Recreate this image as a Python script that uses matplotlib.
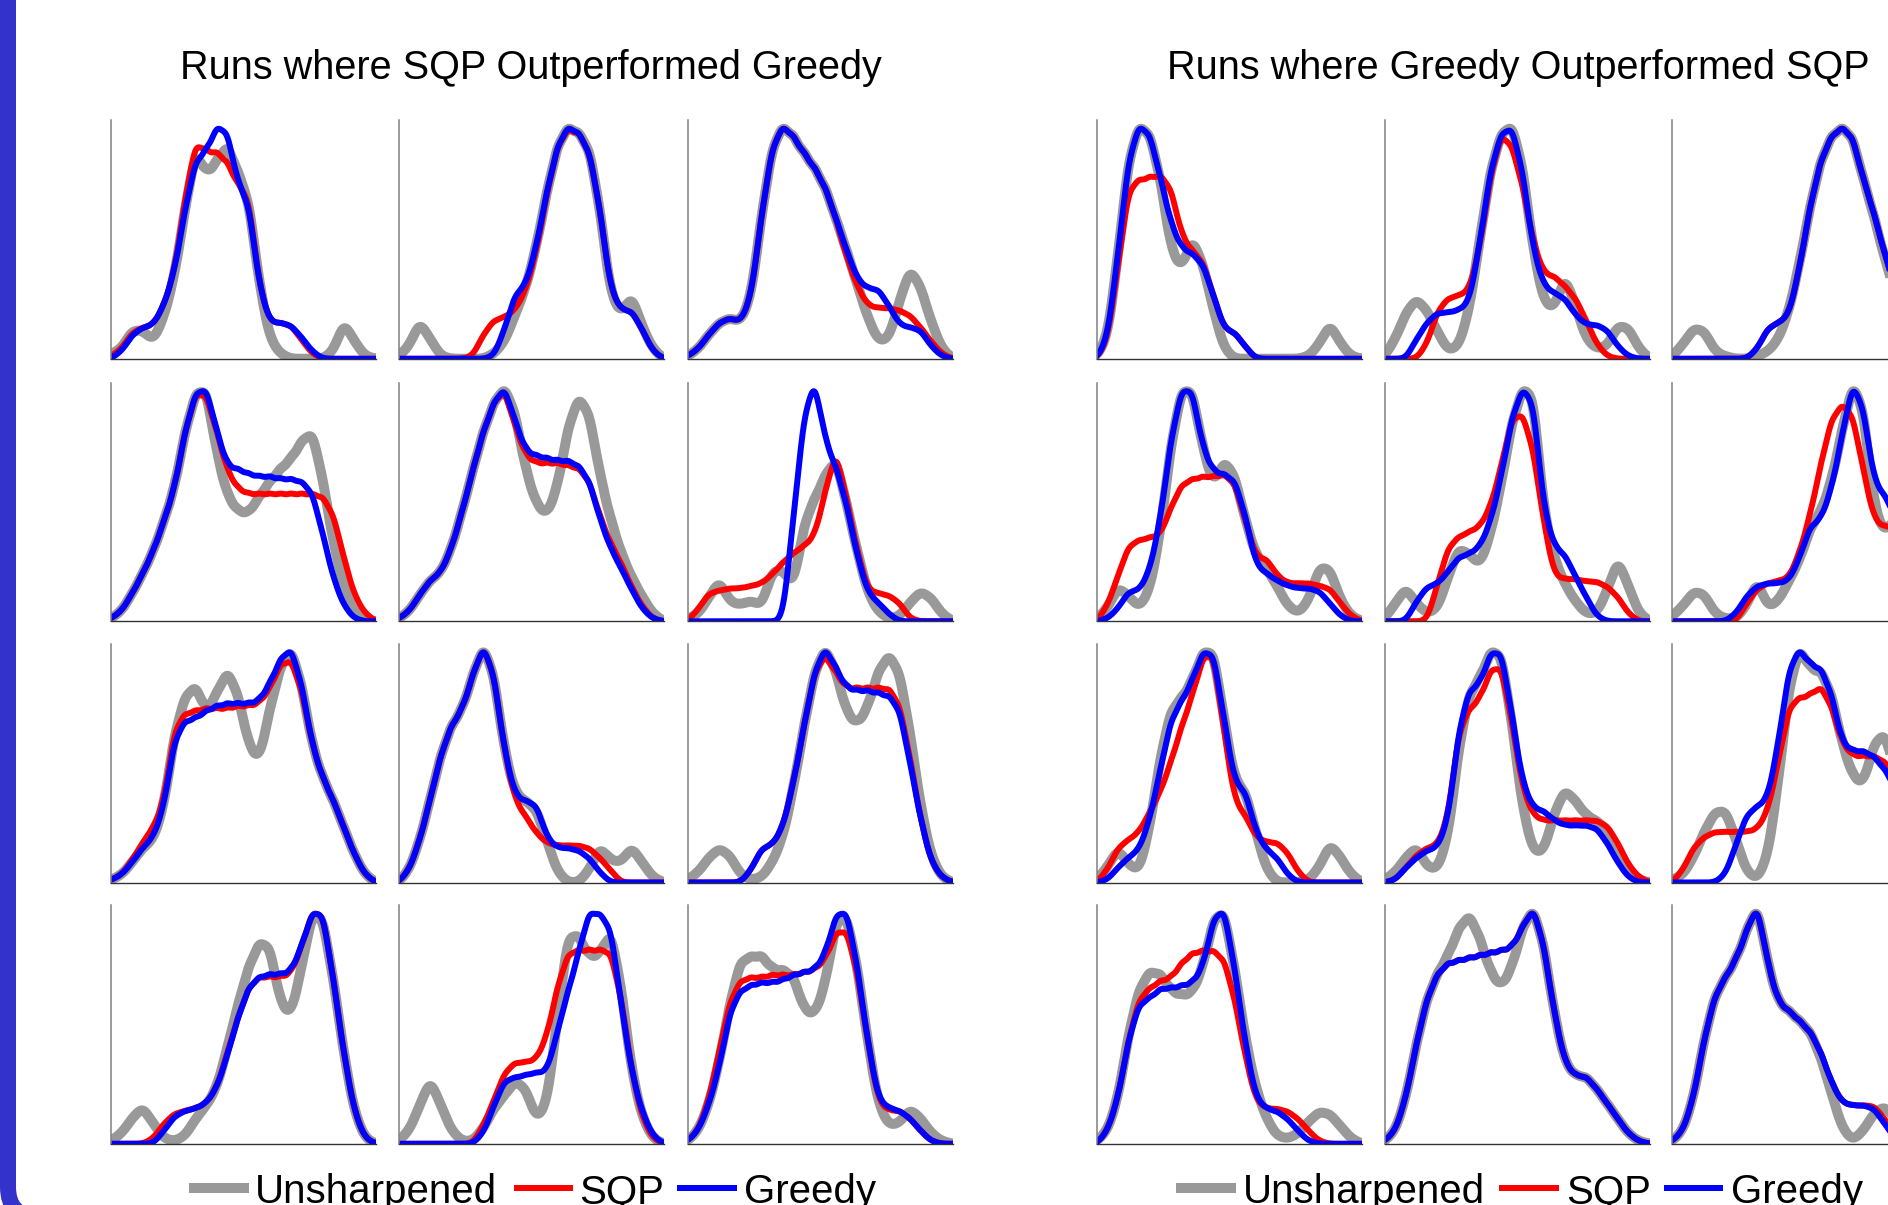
import numpy as np
import matplotlib.pyplot as plt
from matplotlib.lines import Line2D
from matplotlib.patches import FancyBboxPatch
from matplotlib.transforms import IdentityTransform

# binned sample weights, 26 bins across the sample range, 12 runs per group (row by row)
sqp_better_unsharpened = [
    [2, 4, 12, 12, 7, 17, 34, 62, 88, 76, 82, 90, 77, 67, 31, 8, 2, 0, 0, 0, 0, 3, 16, 7, 1, 0],
    [1, 5, 16, 8, 1, 0, 0, 0, 0, 2, 7, 18, 29, 46, 69, 88, 96, 93, 87, 62, 26, 18, 27, 13, 4, 0],
    [1, 4, 10, 15, 17, 15, 25, 60, 88, 97, 92, 85, 79, 71, 58, 45, 31, 17, 7, 8, 24, 38, 30, 15, 4, 0],
    [1, 4, 11, 19, 28, 40, 53, 76, 92, 94, 67, 50, 44, 43, 50, 56, 61, 65, 72, 77, 57, 31, 13, 3, 0, 0],
    [1, 4, 11, 17, 20, 30, 45, 62, 78, 90, 97, 86, 62, 48, 43, 55, 80, 93, 86, 60, 42, 28, 18, 10, 3, 0],
    [1, 3, 10, 18, 8, 7, 9, 6, 22, 22, 14, 42, 52, 62, 70, 50, 30, 12, 4, 1, 2, 8, 13, 10, 3, 0],
    [1, 3, 8, 14, 17, 30, 60, 75, 80, 68, 76, 86, 76, 55, 48, 70, 87, 95, 80, 55, 42, 33, 22, 11, 3, 0],
    [0, 5, 17, 34, 52, 64, 70, 84, 97, 85, 53, 36, 33, 30, 17, 4, 0, 0, 5, 15, 9, 8, 15, 8, 2, 0],
    [1, 4, 10, 14, 11, 3, 1, 2, 8, 18, 38, 63, 85, 95, 85, 68, 63, 70, 85, 92, 85, 60, 30, 10, 2, 0],
    [1, 4, 10, 15, 8, 2, 1, 3, 10, 15, 22, 38, 55, 70, 80, 79, 55, 50, 70, 92, 90, 65, 35, 12, 2, 0],
    [1, 5, 15, 26, 15, 5, 1, 1, 6, 14, 19, 25, 22, 9, 15, 50, 83, 82, 73, 74, 85, 62, 28, 10, 2, 0],
    [1, 5, 15, 32, 55, 72, 73, 74, 68, 68, 66, 52, 50, 62, 88, 90, 70, 40, 15, 7, 8, 14, 10, 4, 1, 0],
]
sqp_better_sqp = [
    [1, 4, 11, 13, 14, 22, 36, 66, 91, 86, 86, 82, 72, 68, 30, 15, 15, 14, 8, 2, 0, 0, 0, 0, 0, 0],
    [0, 0, 0, 0, 0, 0, 0, 1, 10, 16, 17, 20, 28, 44, 68, 88, 95, 93, 86, 62, 28, 20, 20, 12, 3, 0],
    [1, 4, 10, 15, 17, 15, 25, 60, 88, 97, 92, 85, 79, 71, 58, 42, 30, 22, 21, 21, 20, 18, 13, 7, 2, 0],
    [1, 4, 11, 19, 28, 40, 53, 76, 92, 91, 76, 60, 53, 51, 51, 51, 51, 51, 51, 51, 50, 43, 25, 10, 3, 0],
    [1, 4, 11, 17, 20, 30, 45, 62, 78, 90, 96, 80, 68, 65, 65, 65, 64, 63, 58, 43, 32, 24, 14, 6, 1, 0],
    [0, 5, 12, 13, 14, 14, 15, 16, 20, 25, 29, 32, 36, 55, 74, 52, 30, 13, 12, 11, 8, 1, 0, 0, 0, 0],
    [1, 3, 9, 16, 22, 32, 62, 68, 69, 70, 70, 70, 71, 71, 72, 78, 88, 90, 78, 55, 42, 33, 22, 11, 3, 0],
    [0, 5, 17, 34, 52, 64, 70, 84, 97, 85, 53, 33, 27, 20, 16, 15, 15, 15, 14, 10, 5, 0, 0, 0, 0, 0],
    [0, 0, 0, 0, 0, 0, 5, 14, 15, 22, 40, 63, 85, 92, 84, 78, 78, 78, 78, 78, 72, 50, 25, 8, 2, 0],
    [0, 0, 0, 0, 2, 8, 12, 13, 14, 16, 22, 36, 50, 62, 66, 66, 66, 67, 78, 92, 92, 65, 35, 12, 2, 0],
    [0, 0, 0, 0, 0, 0, 0, 0, 7, 17, 28, 32, 32, 33, 42, 62, 75, 76, 76, 76, 76, 58, 28, 10, 2, 0],
    [1, 5, 17, 36, 56, 64, 65, 65, 66, 66, 66, 67, 68, 72, 83, 84, 68, 40, 16, 13, 13, 10, 5, 1, 0, 0],
]
sqp_better_greedy = [
    [0, 3, 10, 13, 14, 22, 36, 62, 83, 86, 97, 95, 72, 66, 30, 15, 15, 14, 9, 3, 0, 0, 0, 0, 0, 0],
    [0, 0, 0, 0, 0, 0, 0, 0, 0, 1, 12, 27, 30, 46, 69, 88, 96, 93, 86, 62, 28, 20, 20, 12, 3, 0],
    [1, 4, 10, 15, 17, 15, 25, 60, 88, 97, 92, 85, 79, 71, 58, 45, 33, 29, 29, 22, 14, 13, 12, 5, 1, 0],
    [1, 4, 11, 19, 28, 40, 53, 76, 92, 94, 76, 62, 61, 59, 58, 58, 57, 57, 56, 52, 35, 17, 6, 1, 0, 0],
    [1, 4, 11, 17, 20, 30, 45, 62, 78, 90, 97, 82, 70, 68, 67, 66, 66, 64, 58, 42, 30, 22, 13, 5, 1, 0],
    [0, 0, 0, 0, 0, 0, 0, 0, 0, 0, 45, 88, 104, 76, 66, 50, 28, 12, 8, 3, 0, 0, 0, 0, 0, 0],
    [1, 3, 8, 14, 18, 30, 58, 65, 66, 69, 71, 72, 72, 72, 73, 80, 90, 95, 80, 55, 42, 33, 22, 11, 3, 0],
    [0, 5, 17, 34, 52, 64, 70, 84, 97, 85, 53, 35, 33, 32, 18, 14, 14, 13, 10, 4, 0, 0, 0, 0, 0, 0],
    [0, 0, 0, 0, 0, 0, 5, 14, 15, 22, 40, 63, 85, 95, 86, 78, 77, 77, 76, 75, 70, 48, 25, 8, 2, 0],
    [0, 0, 0, 0, 0, 5, 11, 13, 14, 16, 22, 35, 50, 62, 66, 67, 67, 68, 78, 92, 92, 65, 35, 12, 2, 0],
    [0, 0, 0, 0, 0, 0, 0, 0, 4, 15, 25, 26, 27, 28, 28, 44, 60, 75, 92, 90, 86, 55, 28, 12, 3, 0],
    [1, 5, 15, 30, 52, 60, 62, 63, 63, 64, 66, 67, 68, 74, 90, 92, 70, 40, 17, 14, 13, 10, 5, 1, 0, 0],
]

greedy_better_unsharpened = [
    [1, 8, 42, 82, 96, 92, 74, 44, 36, 50, 39, 20, 4, 0, 0, 0, 0, 0, 0, 0, 1, 6, 15, 6, 1, 0],
    [1, 8, 19, 25, 20, 11, 3, 5, 20, 50, 78, 93, 97, 80, 45, 23, 20, 35, 22, 8, 4, 5, 14, 13, 4, 0],
    [1, 6, 13, 12, 3, 1, 0, 0, 1, 3, 8, 20, 40, 64, 83, 93, 97, 93, 75, 60, 42, 28, 18, 8, 2, 0],
    [1, 5, 14, 10, 5, 12, 35, 70, 92, 92, 68, 53, 64, 58, 40, 26, 21, 14, 6, 3, 8, 22, 21, 8, 2, 0],
    [1, 7, 14, 7, 3, 5, 18, 30, 27, 22, 35, 55, 80, 94, 93, 44, 25, 15, 8, 3, 3, 12, 26, 14, 3, 0],
    [2, 6, 12, 11, 3, 1, 1, 6, 17, 5, 8, 16, 24, 37, 43, 55, 75, 95, 85, 45, 34, 42, 32, 14, 3, 0],
    [1, 6, 14, 7, 4, 22, 50, 69, 73, 80, 92, 93, 65, 40, 37, 20, 5, 0, 0, 0, 1, 6, 16, 10, 3, 0],
    [1, 4, 10, 15, 6, 5, 18, 55, 77, 82, 94, 93, 65, 30, 12, 12, 28, 38, 33, 27, 25, 21, 12, 5, 1, 0],
    [1, 3, 10, 20, 28, 29, 17, 4, 1, 10, 40, 78, 94, 84, 84, 75, 55, 42, 38, 55, 60, 45, 25, 10, 2, 0],
    [1, 5, 18, 44, 62, 69, 68, 61, 59, 60, 70, 90, 94, 70, 42, 22, 10, 3, 2, 4, 9, 13, 12, 7, 2, 0],
    [1, 5, 18, 40, 58, 68, 75, 86, 92, 82, 68, 62, 70, 86, 95, 80, 52, 32, 27, 27, 22, 16, 10, 4, 1, 0],
    [1, 5, 18, 41, 58, 65, 72, 83, 95, 70, 55, 52, 48, 44, 34, 20, 6, 1, 5, 12, 15, 10, 4, 1, 0, 0],
]
greedy_better_sqp = [
    [0, 7, 38, 70, 73, 74, 75, 70, 50, 44, 40, 26, 12, 11, 5, 0, 0, 0, 0, 0, 0, 0, 0, 0, 0, 0],
    [0, 0, 0, 0, 6, 20, 25, 26, 28, 46, 76, 93, 88, 72, 48, 35, 34, 30, 25, 16, 6, 1, 0, 0, 0, 0],
    [0, 0, 0, 0, 0, 0, 0, 0, 4, 13, 15, 18, 38, 64, 83, 93, 97, 93, 75, 61, 44, 30, 18, 8, 2, 0],
    [0, 6, 18, 30, 32, 33, 34, 45, 54, 56, 57, 57, 58, 55, 40, 25, 25, 18, 15, 15, 15, 14, 13, 7, 2, 0],
    [0, 0, 0, 0, 0, 15, 30, 34, 36, 38, 46, 62, 82, 84, 70, 40, 18, 17, 17, 16, 16, 14, 10, 3, 0, 0],
    [0, 0, 0, 0, 0, 0, 0, 7, 13, 15, 16, 17, 27, 42, 62, 80, 86, 82, 60, 40, 37, 38, 30, 14, 3, 0],
    [0, 5, 14, 17, 20, 28, 36, 48, 62, 74, 90, 92, 60, 32, 27, 18, 16, 16, 12, 4, 0, 0, 0, 0, 0, 0],
    [0, 1, 6, 11, 14, 15, 26, 62, 70, 74, 86, 88, 65, 38, 27, 25, 25, 25, 25, 25, 25, 23, 16, 7, 2, 0],
    [0, 5, 14, 18, 20, 20, 20, 20, 21, 28, 48, 70, 73, 74, 78, 70, 55, 50, 50, 50, 48, 42, 28, 12, 3, 0],
    [0, 5, 18, 42, 58, 62, 65, 66, 72, 76, 77, 77, 74, 58, 35, 17, 14, 14, 13, 10, 5, 1, 0, 0, 0, 0],
    [1, 5, 18, 40, 58, 68, 72, 73, 74, 75, 76, 77, 78, 86, 95, 80, 52, 32, 27, 27, 22, 16, 10, 4, 1, 0],
    [1, 5, 18, 41, 58, 65, 72, 83, 95, 70, 55, 52, 48, 44, 36, 24, 16, 15, 15, 15, 10, 3, 0, 0, 0, 0],
]
greedy_better_greedy = [
    [0, 8, 42, 82, 96, 92, 74, 55, 45, 43, 39, 26, 12, 11, 5, 0, 0, 0, 0, 0, 0, 0, 0, 0, 0, 0],
    [0, 0, 0, 8, 15, 19, 19, 20, 23, 48, 78, 93, 96, 78, 45, 30, 27, 25, 18, 14, 14, 12, 5, 1, 0, 0],
    [0, 0, 0, 0, 0, 0, 0, 0, 4, 13, 15, 18, 38, 64, 83, 93, 97, 93, 75, 61, 44, 30, 18, 8, 2, 0],
    [0, 1, 5, 12, 12, 20, 40, 72, 92, 92, 68, 59, 58, 56, 42, 22, 19, 16, 14, 13, 13, 12, 7, 2, 0, 0],
    [0, 0, 0, 8, 14, 15, 20, 26, 27, 30, 40, 58, 82, 94, 90, 45, 30, 27, 18, 10, 2, 0, 0, 0, 0, 0],
    [0, 0, 0, 0, 0, 0, 3, 10, 14, 15, 15, 16, 25, 38, 40, 52, 73, 95, 85, 55, 50, 42, 28, 12, 3, 0],
    [0, 1, 6, 10, 13, 25, 45, 65, 72, 80, 92, 92, 65, 39, 37, 20, 13, 10, 3, 0, 0, 0, 0, 0, 0, 0],
    [0, 1, 6, 10, 13, 14, 25, 62, 78, 80, 93, 94, 68, 40, 30, 29, 25, 23, 23, 23, 22, 16, 8, 2, 0, 0],
    [0, 0, 0, 0, 0, 3, 15, 27, 30, 33, 55, 85, 93, 86, 85, 75, 55, 52, 52, 50, 45, 38, 25, 10, 2, 0],
    [0, 5, 18, 42, 56, 58, 62, 62, 63, 64, 70, 90, 95, 70, 40, 18, 14, 13, 10, 5, 1, 0, 0, 0, 0, 0],
    [1, 5, 18, 40, 58, 68, 72, 73, 74, 75, 76, 77, 78, 86, 95, 80, 52, 32, 27, 27, 22, 16, 10, 4, 1, 0],
    [1, 5, 18, 41, 58, 65, 72, 83, 95, 70, 55, 52, 48, 44, 36, 24, 16, 15, 15, 14, 8, 2, 0, 0, 0, 0],
]

group_titles = ["Runs where SQP Outperformed Greedy", "Runs where Greedy Outperformed SQP"]
legend_labels = ["Unsharpened", "SQP", "Greedy"]

GRAY, RED, BLUE = "#999999", "#ff0000", "#0000ff"
W, H = 1888, 1205

bins = np.linspace(0, 1, 26)
xs = np.linspace(0, 1, 600)
bw = 0.023
kernel = np.exp(-0.5 * ((xs[:, None] - bins[None, :]) / bw) ** 2)


def density(weights):
    return kernel @ np.asarray(weights, dtype=float)


fig = plt.figure(figsize=(W / 100, H / 100), dpi=100)

# panel grid in pixels
col_left = [[110.8, 398.5, 687.5], [1096.8, 1384.6, 1672.4]]
row_top = [120.4, 382.9, 644.1, 905.4]
pw, ph = 265.0, 238.4

groups = [
    (sqp_better_unsharpened, sqp_better_sqp, sqp_better_greedy),
    (greedy_better_unsharpened, greedy_better_sqp, greedy_better_greedy),
]

for g, (uns, sqp, gre) in enumerate(groups):
    for k in range(12):
        r, c = divmod(k, 3)
        x0 = col_left[g][c]
        y0 = row_top[r]
        ax = fig.add_axes([x0 / W, 1 - (y0 + ph) / H, pw / W, ph / H])
        d0, d1, d2 = density(uns[k]), density(sqp[k]), density(gre[k])
        ax.plot(xs, d0, color=GRAY, lw=7.2)
        ax.plot(xs, d1, color=RED, lw=4.3)
        ax.plot(xs, d2, color=BLUE, lw=4.3)
        top = max(d0.max(), d1.max(), d2.max()) / 0.965
        ax.set_xlim(0, 1)
        ax.set_ylim(0, top)
        ax.set_xticks([])
        ax.set_yticks([])
        ax.patch.set_alpha(0)
        for s in ["top", "right"]:
            ax.spines[s].set_visible(False)
        ax.spines["left"].set_color("#808080")
        ax.spines["left"].set_linewidth(1.1)
        ax.spines["bottom"].set_color("#333333")
        ax.spines["bottom"].set_linewidth(1.0)

# group titles
for cx, title in zip([531, 1518], group_titles):
    fig.text(cx / W, 1 - 79 / H, title, ha="center", va="baseline",
             fontsize=28.5, family=["Liberation Sans", "DejaVu Sans"])

# legends under each group
legend_spots = [
    [(189, 249, 255), (514, 573, 579), (677, 737, 744)],
    [(1176, 1236, 1243), (1499, 1559, 1566), (1664, 1723, 1731)],
]
handle_style = [(GRAY, 10), (RED, 6), (BLUE, 6)]
for spots in legend_spots:
    for (xa, xb, xt), (col, lw_px), label in zip(spots, handle_style, legend_labels):
        fig.add_artist(Line2D([xa / W, xb / W], [1 - 1188 / H] * 2, color=col,
                              lw=lw_px * 0.72, solid_capstyle="butt",
                              transform=fig.transFigure))
        fig.text(xt / W, 1 - 1203 / H, label, ha="left", va="baseline",
                 fontsize=29, family=["Liberation Sans", "DejaVu Sans"])

# slide frame on the left edge
frame = FancyBboxPatch((8, -12), 2200, 1400, boxstyle="round,pad=0,rounding_size=30",
                       transform=IdentityTransform(), fill=False,
                       edgecolor="#3333cc", lw=16 * 0.72)
fig.add_artist(frame)

fig.savefig("out.png", dpi=100)
